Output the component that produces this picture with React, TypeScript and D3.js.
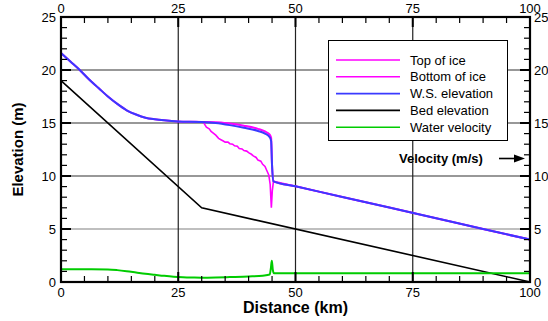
import * as d3 from "d3"

const W = 548, H = 321
const M = { l: 61, r: 530, t: 17, b: 282 }

const majorX = [0, 25, 50, 75, 100]
const majorY = [0, 5, 10, 15, 20, 25]

// water surface
const wsX = [0, 2, 4, 6, 8, 10, 12, 14, 16, 18, 20, 22, 25, 30, 33, 36, 39, 42, 43.5, 44.5, 44.8, 45.0, 45.3, 50, 60, 70, 80, 90, 100]
const wsY = [21.6, 20.8, 20.0, 19.1, 18.3, 17.5, 16.8, 16.2, 15.8, 15.5, 15.35, 15.25, 15.15, 15.1, 15.0, 14.8, 14.55, 14.25, 14.0, 13.65, 13.3, 11.0, 9.5, 9.03, 8.02, 7.02, 6.01, 5.0, 4.0]

// ice cover (upstream of 30 km it sits on the water surface)
const upX = [0, 2, 4, 6, 8, 10, 12, 14, 16, 18, 20, 22, 25, 30]
const upY = [21.6, 20.8, 20.0, 19.1, 18.3, 17.5, 16.8, 16.2, 15.8, 15.5, 15.35, 15.25, 15.15, 15.1]

const topX = [33, 36, 39, 42, 43.5, 44.5, 44.8, 45.0, 45.3, 50, 60, 70, 80, 90, 100]
const topY = [15.08, 14.95, 14.75, 14.45, 14.2, 13.9, 13.6, 11.0, 9.5, 9.03, 8.02, 7.02, 6.01, 5.0, 4.0]

const botX = [30.3, 31, 31.6, 32, 32.6, 33, 33.6, 34, 34.6, 35, 35.6, 36, 36.6, 37, 37.6, 38, 38.6, 39, 39.6, 40, 40.6, 41, 41.6, 42, 42.6, 43, 43.5, 43.9, 44.3, 44.6, 44.85, 45.05, 45.3, 50, 60, 70, 80, 90, 100]
const botY = [15.1, 14.6, 14.45, 14.2, 14.0, 13.85, 13.55, 13.45, 13.3, 13.2, 13.2, 13.05, 13.0, 12.85, 12.8, 12.6, 12.55, 12.4, 12.35, 12.2, 12.05, 11.9, 11.75, 11.5, 11.4, 11.1, 10.9, 10.5, 10.1, 9.2, 7.0, 8.6, 9.5, 9.03, 8.02, 7.02, 6.01, 5.0, 4.0]

const bedX = [0, 30, 100]
const bedY = [19, 7, 0]

const velX = [0, 5, 10, 12, 14, 16, 18, 20, 22, 24, 26, 28, 30, 33, 36, 40, 43, 44.5, 44.75, 44.95, 45.15, 45.4, 50, 60, 70, 80, 90, 100]
const velY = [1.2, 1.2, 1.18, 1.12, 1.02, 0.9, 0.78, 0.68, 0.58, 0.5, 0.45, 0.42, 0.4, 0.42, 0.46, 0.52, 0.6, 0.7, 1.3, 2.0, 1.2, 0.82, 0.82, 0.82, 0.82, 0.82, 0.82, 0.82]

const legend = [
  { name: "Top of ice", color: "#ff00ff" },
  { name: "Bottom of ice", color: "#ff00ff" },
  { name: "W.S. elevation", color: "#3a3aff" },
  { name: "Bed elevation", color: "#000000" },
  { name: "Water velocity", color: "#00cc00" },
]

const font = "Arial, 'Liberation Sans', sans-serif"

export default function App() {
  const x = d3.scaleLinear().domain([0, 100]).range([M.l, M.r])
  const y = d3.scaleLinear().domain([0, 25]).range([M.b, M.t])
  const mk = (xs: number[], ys: number[], curve = d3.curveLinear) =>
    d3.line<number>().x((_, i) => x(xs[i])).y(d => y(d)).curve(curve)(ys) || ""

  const minorX = d3.range(0, 101, 5).filter(v => v % 25 !== 0)
  const minorY = d3.range(0, 26, 1).filter(v => v % 5 !== 0)

  return (
    <div style={{ position: "absolute", left: 0, top: 0 }}>
      <svg width={W} height={H} style={{ display: "block", background: "#fff" }} fontFamily={font}>
        {/* grid */}
        {majorY.filter(v => v > 0 && v < 25).map(v => (
          <line key={"gy" + v} x1={M.l} x2={M.r} y1={y(v)} y2={y(v)} stroke={v === 5 ? "#808080" : "#333"} strokeWidth={1.2} />
        ))}
        {majorX.filter(v => v > 0 && v < 100).map(v => (
          <line key={"gx" + v} x1={x(v)} x2={x(v)} y1={M.t} y2={M.b} stroke="#222" strokeWidth={1.2} />
        ))}

        {/* series */}
        <path d={mk([...upX, ...topX], [...upY, ...topY], d3.curveMonotoneX)} fill="none" stroke="#ff00ff" strokeWidth={2} />
        <path d={mk(botX, botY)} fill="none" stroke="#ff00ff" strokeWidth={1.6} />
        <path d={mk(wsX, wsY, d3.curveMonotoneX)} fill="none" stroke="#3a3aff" strokeWidth={2} />
        <path d={mk(bedX, bedY)} fill="none" stroke="#000" strokeWidth={1.6} />
        <path d={mk(velX, velY, d3.curveMonotoneX)} fill="none" stroke="#00cc00" strokeWidth={2} />

        {/* frame */}
        <rect x={M.l} y={M.t} width={M.r - M.l} height={M.b - M.t} fill="none" stroke="#000" strokeWidth={2.2} />

        {/* x ticks bottom & top */}
        {majorX.map(v => (
          <g key={"tx" + v}>
            <line x1={x(v)} x2={x(v)} y1={M.b} y2={M.b - 10} stroke="#000" strokeWidth={2} />
            <line x1={x(v)} x2={x(v)} y1={M.t} y2={M.t + 10} stroke="#000" strokeWidth={2} />
            <text x={x(v)} y={M.b + 15} textAnchor="middle" fontSize={13}>{v}</text>
            <text x={x(v)} y={M.t - 4} textAnchor="middle" fontSize={13}>{v}</text>
          </g>
        ))}
        {minorX.map(v => (
          <g key={"mx" + v}>
            <line x1={x(v)} x2={x(v)} y1={M.b} y2={M.b - 6} stroke="#000" strokeWidth={1.2} />
            <line x1={x(v)} x2={x(v)} y1={M.t} y2={M.t + 6} stroke="#000" strokeWidth={1.2} />
          </g>
        ))}

        {/* y ticks left & right */}
        {majorY.map(v => (
          <g key={"ty" + v}>
            <line x1={M.l} x2={M.l + 10} y1={y(v)} y2={y(v)} stroke="#000" strokeWidth={2} />
            <line x1={M.r} x2={M.r - 10} y1={y(v)} y2={y(v)} stroke="#000" strokeWidth={2} />
            <text x={M.l - 5} y={y(v) + 5} textAnchor="end" fontSize={13}>{v}</text>
            <text x={M.r + 4} y={y(v) + 5} textAnchor="start" fontSize={13}>{v}</text>
          </g>
        ))}
        {minorY.map(v => (
          <g key={"my" + v}>
            <line x1={M.l} x2={M.l + 6} y1={y(v)} y2={y(v)} stroke="#000" strokeWidth={1.2} />
            <line x1={M.r} x2={M.r - 6} y1={y(v)} y2={y(v)} stroke="#000" strokeWidth={1.2} />
          </g>
        ))}

        {/* axis titles */}
        <text x={(M.l + M.r) / 2} y={313} textAnchor="middle" fontSize={16} fontWeight="bold">Distance (km)</text>
        <text transform={`translate(23,${(M.t + M.b) / 2}) rotate(-90)`} textAnchor="middle" fontSize={15} fontWeight="bold">Elevation (m)</text>

        {/* legend */}
        <rect x={328.5} y={40.5} width={179} height={100} fill="#fff" stroke="#000" strokeWidth={1} />
        {legend.map((d, i) => (
          <g key={d.name} transform={`translate(0,${60 + i * 16.8})`}>
            <line x1={336} x2={400} y1={0} y2={0} stroke={d.color} strokeWidth={1.6} />
            <text x={410} y={4.5} fontSize={13}>{d.name}</text>
          </g>
        ))}

        {/* velocity axis note */}
        <text x={399} y={163} fontSize={13} fontWeight="bold">Velocity (m/s)</text>
        <line x1={499} x2={516} y1={158.5} y2={158.5} stroke="#000" strokeWidth={1.6} />
        <path d="M514,154.5 L525,158.5 L514,162.5 Z" fill="#000" />
      </svg>
    </div>
  )
}
